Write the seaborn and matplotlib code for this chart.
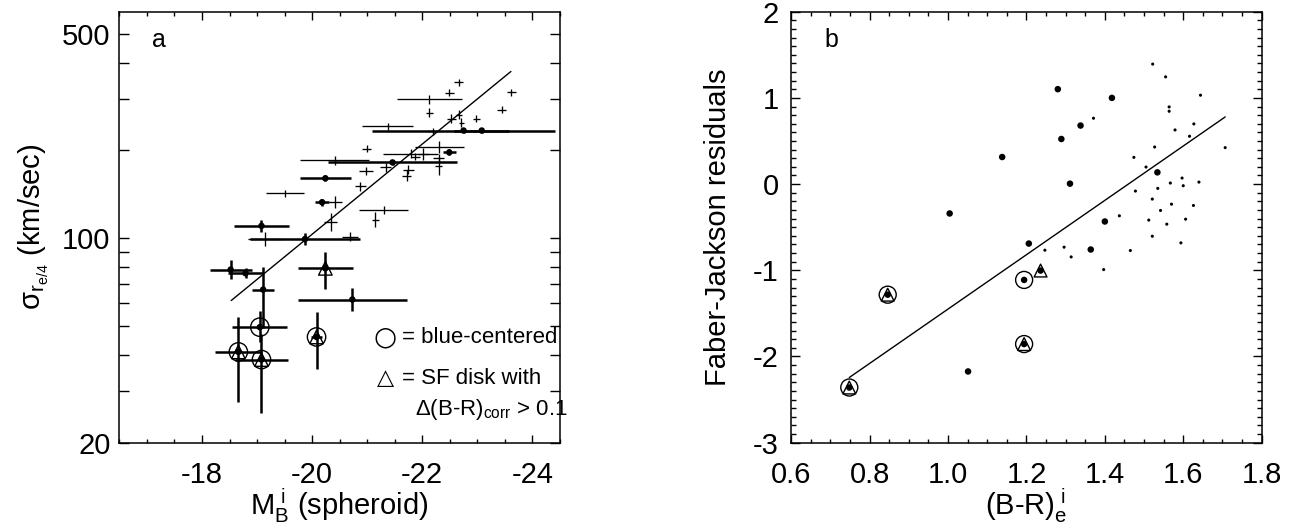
import numpy as np
import pandas as pd
import matplotlib
matplotlib.use("Agg")
import matplotlib.pyplot as plt
import seaborn as sns
from matplotlib.ticker import MultipleLocator, FixedLocator, NullFormatter, LogLocator

# ---------------- Panel a data ----------------
# plain crosses (no symbol): M_B, sigma, x-error (mag), y-error (dex)
cross_M = [-22.66, -22.49, -23.62, -22.13, -22.13, -23.44, -22.53, -22.67, -22.71, -22.98,
           -21.37, -22.19, -20.99, -22.31, -21.79, -22.02, -21.87, -22.30, -22.30, -20.41,
           -21.34, -21.75, -21.72, -20.98, -20.87, -19.51, -20.42, -21.30, -21.15, -20.34,
           -19.14, -20.69]
cross_sig = [342, 315, 316, 299, 269, 276, 257, 265, 249, 257,
             242, 233, 203, 206, 195, 195, 190, 188, 177, 185,
             175, 172, 164, 170, 151, 143, 133, 125, 116, 114,
             99.5, 101.3]
cross_xerr = [0.08, 0.08, 0.08, 0.59, 0.06, 0.08, 0.08, 0.06, 0.05, 0.06,
              0.47, 0.10, 0.08, 0.45, 0.50, 0.10, 0.08, 0.10, 0.06, 0.63,
              0.10, 0.10, 0.08, 0.12, 0.10, 0.35, 0.12, 0.44, 0.06, 0.12,
              0.30, 0.15]
cross_dex = [0.012, 0.012, 0.012, 0.015, 0.015, 0.012, 0.015, 0.015, 0.015, 0.012,
             0.012, 0.012, 0.012, 0.020, 0.015, 0.020, 0.012, 0.015, 0.030, 0.015,
             0.015, 0.015, 0.020, 0.015, 0.015, 0.012, 0.020, 0.015, 0.025, 0.030,
             0.025, 0.015]

# filled dots: M_B, sigma, x-error, lower / upper y-error (dex), blue-centred flag, SF-disk flag
dot_M = [-22.75, -23.08, -22.49, -21.46, -20.24, -20.18, -19.08, -19.87, -18.52, -18.79,
         -20.24, -19.11, -20.73, -19.05, -20.08, -18.66, -19.08]
dot_sig = [234, 234, 197, 182, 160.6, 133, 110.4, 99.5, 78.2, 76.0,
           79.0, 66.8, 61.8, 49.7, 46.0, 40.9, 38.5]
dot_xerr = [1.66, 0.50, 0.12, 1.17, 0.46, 0.12, 0.50, 1.00, 0.38, 0.32,
            0.50, 0.20, 0.99, 0.50, 0.10, 0.43, 0.48]
dot_dex_lo = [0.010, 0.010, 0.010, 0.010, 0.010, 0.012, 0.020, 0.020, 0.032, 0.017,
              0.070, 0.132, 0.041, 0.051, 0.109, 0.171, 0.184]
dot_dex_hi = [0.010, 0.010, 0.010, 0.010, 0.010, 0.012, 0.020, 0.020, 0.032, 0.017,
              0.057, 0.079, 0.041, 0.056, 0.085, 0.119, 0.087]
dot_blue = [0, 0, 0, 0, 0, 0, 0, 0, 0, 0, 0, 0, 0, 1, 1, 1, 1]
dot_sf = [0, 0, 0, 0, 0, 0, 0, 0, 0, 0, 1, 0, 0, 0, 1, 1, 1]

fit_a_M = [-18.53, -23.61]
fit_a_sig = [61.3, 372.7]

# ---------------- Panel b data ----------------
big_color = [1.280, 1.418, 1.338, 1.289, 1.138, 1.311, 1.004, 1.534, 1.400, 1.206, 1.364,
             1.051, 1.236, 1.194, 0.846, 1.194, 0.748]
big_resid = [1.101, 1.000, 0.679, 0.523, 0.314, 0.005, -0.341, 0.136, -0.434, -0.690, -0.759,
             -2.174, -1.003, -1.112, -1.283, -1.856, -2.360]
big_blue = [0, 0, 0, 0, 0, 0, 0, 0, 0, 0, 0, 0, 0, 1, 1, 1, 1]
big_sf = [0, 0, 0, 0, 0, 0, 0, 0, 0, 0, 0, 0, 1, 0, 1, 1, 1]

small_color = [1.371, 1.522, 1.555, 1.564, 1.564, 1.579, 1.627, 1.616, 1.527, 1.474,
               1.505, 1.478, 1.535, 1.567, 1.597, 1.600, 1.640, 1.521, 1.570, 1.542,
               1.626, 1.437, 1.512, 1.558, 1.606, 1.521, 1.594, 1.247, 1.296, 1.314,
               1.465, 1.397, 1.644, 1.707]
small_resid = [0.764, 1.392, 1.244, 0.895, 0.845, 0.628, 0.698, 0.555, 0.430, 0.310,
               0.198, -0.081, -0.050, 0.012, 0.070, -0.019, 0.023, -0.174, -0.233, -0.306,
               -0.248, -0.368, -0.418, -0.465, -0.407, -0.605, -0.682, -0.767, -0.732, -0.845,
               -0.771, -0.992, 1.031, 0.423]

fit_b_color = [0.748, 1.707]
fit_b_resid = [-2.244, 0.779]

# ---------------- style ----------------
sns.set_theme(style="ticks")
plt.rcParams.update({
    "font.family": ["Liberation Sans", "DejaVu Sans"],
    "mathtext.fontset": "custom",
    "mathtext.rm": "Liberation Sans",
    "mathtext.it": "Liberation Sans",
    "mathtext.bf": "Liberation Sans:bold",
    "mathtext.sf": "Liberation Sans",
    "axes.unicode_minus": False,
    "axes.edgecolor": "black",
    "axes.linewidth": 1.1,
    "axes.facecolor": "white",
    "figure.facecolor": "white",
    "text.color": "black",
    "axes.labelcolor": "black",
    "xtick.color": "black",
    "ytick.color": "black",
})

FS = 21
fig = plt.figure(figsize=(12.94, 5.24), dpi=100)
axa = fig.add_axes([0.0923, 0.1552, 0.3404, 0.8225])
axb = fig.add_axes([0.6115, 0.1552, 0.3635, 0.8225])

# ---------------- Panel a ----------------
cdf = pd.DataFrame({"M": cross_M, "sig": cross_sig, "xerr": cross_xerr, "dex": cross_dex})
cdf["lo"] = cdf["sig"] * (1 - 10 ** (-cdf["dex"]))
cdf["hi"] = cdf["sig"] * (10 ** cdf["dex"] - 1)
axa.errorbar(cdf["M"], cdf["sig"], xerr=cdf["xerr"], yerr=[cdf["lo"], cdf["hi"]],
             fmt="none", ecolor="black", elinewidth=0.95, capsize=0, zorder=2)

ddf = pd.DataFrame({"M": dot_M, "sig": dot_sig, "xerr": dot_xerr,
                    "dlo": dot_dex_lo, "dhi": dot_dex_hi, "blue": dot_blue, "sf": dot_sf})
ddf["lo"] = ddf["sig"] * (1 - 10 ** (-ddf["dlo"]))
ddf["hi"] = ddf["sig"] * (10 ** ddf["dhi"] - 1)
axa.errorbar(ddf["M"], ddf["sig"], xerr=ddf["xerr"], yerr=[ddf["lo"], ddf["hi"]],
             fmt="none", ecolor="black", elinewidth=1.8, capsize=0, zorder=2)
sns.scatterplot(data=ddf, x="M", y="sig", ax=axa, color="black", s=22,
                edgecolor="none", zorder=4, legend=False)
sns.scatterplot(data=ddf[ddf["blue"] == 1], x="M", y="sig", ax=axa, marker="o",
                s=175, facecolor="none", edgecolor="black", linewidth=1.0, zorder=3, legend=False)
sns.scatterplot(data=ddf[ddf["sf"] == 1], x="M", y="sig", ax=axa, marker="^",
                s=95, facecolor="none", edgecolor="black", linewidth=1.0, zorder=3, legend=False)
sns.lineplot(x=fit_a_M, y=fit_a_sig, ax=axa, color="black", linewidth=1.0, zorder=1)

axa.set_yscale("log")
axa.set_xlim(-16.5, -24.5)
axa.set_ylim(20, 597)
axa.xaxis.set_major_locator(FixedLocator([-18, -20, -22, -24]))
axa.xaxis.set_minor_locator(MultipleLocator(0.5))
axa.yaxis.set_major_locator(FixedLocator([20, 100, 500]))
axa.yaxis.set_minor_locator(LogLocator(base=10, subs=np.arange(2, 10)))
axa.yaxis.set_minor_formatter(NullFormatter())
axa.set_yticklabels(["20", "100", "500"])
axa.set_xticklabels(["-18", "-20", "-22", "-24"])
axa.tick_params(axis="both", which="both", direction="in", top=True, right=True,
                labelsize=FS, width=1.0)
axa.tick_params(axis="x", which="major", length=5.8, pad=13)
axa.tick_params(axis="x", which="minor", length=2.9)
axa.tick_params(axis="y", which="major", length=7.2, pad=6.5)
axa.tick_params(axis="y", which="minor", length=7.2)
axa.set_xlabel(r"M$_\mathregular{B}^{\ \mathregular{i}}$ (spheroid)", fontsize=FS, labelpad=-2)
axa.set_ylabel(r"$\mathregular{σ_{r_{e/4}}}$ (km/sec)", fontsize=FS, labelpad=8)
axa.text(0.073, 0.934, "a", transform=axa.transAxes, fontsize=18, va="center", ha="left")
axa.text(0.603, 0.2436, "○", transform=axa.transAxes, fontsize=19, va="center", ha="center",
         family=["DejaVu Sans"])
axa.text(0.641, 0.2436, "= blue-centered", transform=axa.transAxes, fontsize=16,
         va="center", ha="left")
axa.text(0.603, 0.149, "△", transform=axa.transAxes, fontsize=16, va="center", ha="center",
         family=["DejaVu Sans"])
axa.text(0.641, 0.149, "= SF disk with", transform=axa.transAxes, fontsize=16,
         va="center", ha="left")
axa.text(0.671, 0.076, r"Δ(B-R)$_\mathregular{corr}$ > 0.1", transform=axa.transAxes,
         fontsize=16, va="center", ha="left")

# ---------------- Panel b ----------------
bdf = pd.DataFrame({"c": big_color, "r": big_resid, "blue": big_blue, "sf": big_sf})
sdf = pd.DataFrame({"c": small_color, "r": small_resid})
sns.lineplot(x=fit_b_color, y=fit_b_resid, ax=axb, color="black", linewidth=1.0, zorder=1)
sns.scatterplot(data=sdf, x="c", y="r", ax=axb, color="black", s=5,
                edgecolor="none", zorder=4, legend=False)
sns.scatterplot(data=bdf, x="c", y="r", ax=axb, color="black", s=22,
                edgecolor="none", zorder=4, legend=False)
sns.scatterplot(data=bdf[bdf["blue"] == 1], x="c", y="r", ax=axb, marker="o",
                s=150, facecolor="none", edgecolor="black", linewidth=1.0, zorder=3, legend=False)
sns.scatterplot(data=bdf[bdf["sf"] == 1], x="c", y="r", ax=axb, marker="^",
                s=85, facecolor="none", edgecolor="black", linewidth=1.0, zorder=3, legend=False)

axb.set_xlim(0.6, 1.8)
axb.set_ylim(-3, 2)
axb.xaxis.set_major_locator(MultipleLocator(0.2))
axb.xaxis.set_minor_locator(MultipleLocator(0.05))
axb.yaxis.set_major_locator(MultipleLocator(1))
axb.yaxis.set_minor_locator(MultipleLocator(0.1))
axb.set_xticks([0.6, 0.8, 1.0, 1.2, 1.4, 1.6, 1.8])
axb.set_xticklabels(["0.6", "0.8", "1.0", "1.2", "1.4", "1.6", "1.8"])
axb.set_yticks([-3, -2, -1, 0, 1, 2])
axb.set_yticklabels(["-3", "-2", "-1", "0", "1", "2"])
axb.tick_params(axis="both", which="both", direction="in", top=True, right=True,
                labelsize=FS, width=1.0)
axb.tick_params(axis="x", which="major", length=6.0, pad=13)
axb.tick_params(axis="x", which="minor", length=2.9)
axb.tick_params(axis="y", which="major", length=6.5, pad=9)
axb.tick_params(axis="y", which="minor", length=3.6)
axb.set_xlabel(r"(B-R)$_\mathregular{e}^{\ \mathregular{i}}$", fontsize=FS, labelpad=-2)
axb.set_ylabel("Faber-Jackson residuals", fontsize=FS, labelpad=15)
axb.text(0.0695, 0.934, "b", transform=axb.transAxes, fontsize=18, va="center", ha="left")

for ax in (axa, axb):
    for sp in ax.spines.values():
        sp.set_visible(True)
        sp.set_color("black")
        sp.set_linewidth(1.1)

fig.savefig("out.png", dpi=100)
